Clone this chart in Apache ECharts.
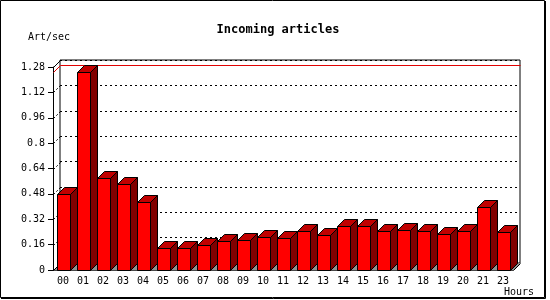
<!DOCTYPE html>
<html><head><meta charset="utf-8">
<script src="https://cdn.jsdelivr.net/npm/echarts@6/dist/echarts.min.js"></script>
<style>html,body{margin:0;padding:0;background:#fff}#c{width:550px;height:300px}</style>
</head><body><div id="c"></div>
<script>
const categories = ['00','01','02','03','04','05','06','07','08','09','10','11','12','13','14','15','16','17','18','19','20','21','23'];
const values = [0.48,1.25,0.58,0.54,0.43,0.14,0.14,0.16,0.18,0.19,0.21,0.20,0.245,0.22,0.275,0.275,0.245,0.25,0.245,0.225,0.245,0.40,0.24];
const yTicks = [0,0.16,0.32,0.48,0.64,0.8,0.96,1.12,1.28];
const titleText = 'Incoming articles';
const yName = 'Art/sec';
const xName = 'Hours';

const MONO = '"DejaVu Sans Mono", "Liberation Mono", monospace';
const DEPTH = 7;
const FRONT = {left:53, right:37, top:67, bottom:30};
const BACK = {left:FRONT.left+DEPTH, right:FRONT.right-DEPTH, top:FRONT.top-DEPTH, bottom:FRONT.bottom+DEPTH};
const yMin = yTicks[0], yMax = yTicks[yTicks.length-1], yInt = yTicks[1]-yTicks[0];
const maxVal = Math.max.apply(null, values);

const chart = echarts.init(document.getElementById('c'), null, {renderer:'canvas'});

function crisp(v){ return Math.round(v) + 0.5; }

function renderFrame(params, api){
  const cs = params.coordSys;
  const L = crisp(cs.x), R = crisp(cs.x + cs.width), B = crisp(cs.y + cs.height);
  const d = DEPTH;
  const children = [];
  children.push({type:'polygon', shape:{points:[[L,B],[R,B],[R+d,B-d],[L+d,B-d]]}, style:{fill:'#8f8f8f', stroke:null}});
  yTicks.forEach(function(t, i){
    const y = crisp(api.coord([0, t])[1]);
    const solid = (i === 0 || i === yTicks.length-1);
    children.push({type:'line', shape:{x1:L, y1:y, x2:L+d, y2:y-d},
      style:{stroke:'#000', lineWidth:1, lineDash: solid ? null : [2,2]}});
  });
  children.push({type:'line', shape:{x1:R, y1:B, x2:R+d, y2:B-d}, style:{stroke:'#000', lineWidth:1}});
  const ym = crisp(api.coord([0, maxVal])[1]);
  children.push({type:'polyline', shape:{points:[[L,ym],[L+d,ym-d],[R+d,ym-d]]}, style:{stroke:'#e00000', lineWidth:1, fill:null}});
  return {type:'group', children:children};
}

function renderBar(params, api){
  const idx = api.value(0), v = api.value(1);
  const base = api.coord([idx, 0]);
  const top = api.coord([idx, v]);
  const bw = api.size([1, 0])[0];
  const catLeft = base[0] - bw/2;
  const x0 = crisp(catLeft + bw*0.19);
  const x1 = x0 + Math.round(bw*0.63);
  const yb = crisp(base[1]);
  const yt = crisp(top[1]);
  const d = DEPTH;
  const st = {stroke:'#000', lineWidth:1};
  return {type:'group', children:[
    {type:'polygon', shape:{points:[[x1,yt],[x1+d,yt-d],[x1+d,yb-d],[x1,yb]]}, style:Object.assign({fill:'#800000'}, st)},
    {type:'polygon', shape:{points:[[x0,yt],[x1,yt],[x1+d,yt-d],[x0+d,yt-d]]}, style:Object.assign({fill:'#c00000'}, st)},
    {type:'rect', shape:{x:x0, y:yt, width:x1-x0, height:yb-yt}, style:Object.assign({fill:'#ff0000'}, st)}
  ]};
}

const option = {
  animation:false,
  backgroundColor:'#ffffff',
  title:{text:titleText, left:273, top:19, textAlign:'center',
    textStyle:{fontFamily:MONO, fontSize:12, fontWeight:'bold', color:'#000'}},
  grid:[
    {left:FRONT.left, right:FRONT.right, top:FRONT.top, bottom:FRONT.bottom},
    {left:BACK.left, right:BACK.right, top:BACK.top, bottom:BACK.bottom, show:true, borderColor:'#000', borderWidth:1, backgroundColor:'transparent'}
  ],
  xAxis:[
    {type:'category', data:categories, gridIndex:0,
      axisLine:{lineStyle:{color:'#000', width:1}},
      axisTick:{length:5, lineStyle:{color:'#000'}},
      axisLabel:{color:'#000', fontFamily:MONO, fontSize:10, margin:6, interval:0}},
    {type:'category', data:categories, gridIndex:1, show:false}
  ],
  yAxis:[
    {type:'value', gridIndex:0, min:yMin, max:yMax, interval:yInt,
      axisLine:{show:true, lineStyle:{color:'#000', width:1}},
      axisTick:{show:true, length:5, lineStyle:{color:'#000'}},
      axisLabel:{color:'#000', fontFamily:MONO, fontSize:10, margin:8, formatter:function(v){return String(+v.toFixed(2));}},
      splitLine:{show:false}},
    {type:'value', gridIndex:1, min:yMin, max:yMax, interval:yInt,
      axisLine:{show:false}, axisTick:{show:false}, axisLabel:{show:false},
      splitLine:{show:true, lineStyle:{color:'#000', width:1, type:[2,3]}}}
  ],
  graphic:[
    {type:'text', left:28, top:32, style:{text:yName, font:'10px ' + MONO, fill:'#000'}},
    {type:'text', left:504, top:287, style:{text:xName, font:'10px ' + MONO, fill:'#000'}},
    {type:'rect', shape:{x:0.5, y:0.5, width:544, height:297}, style:{fill:null, stroke:'#000', lineWidth:1}, z:100},
    {type:'polyline', shape:{points:[[545.5,1],[545.5,298.5],[1,298.5]]}, style:{fill:null, stroke:'#000', lineWidth:1}, z:100}
  ],
  series:[
    {type:'custom', name:'frame', xAxisIndex:0, yAxisIndex:0, renderItem:renderFrame, data:[[0,0]], silent:true, z:1},
    {type:'custom', name:'Incoming', xAxisIndex:0, yAxisIndex:0, renderItem:renderBar,
      data:values.map(function(v,i){return [i, v];}), z:2}
  ]
};
chart.setOption(option);
</script>
</body></html>
